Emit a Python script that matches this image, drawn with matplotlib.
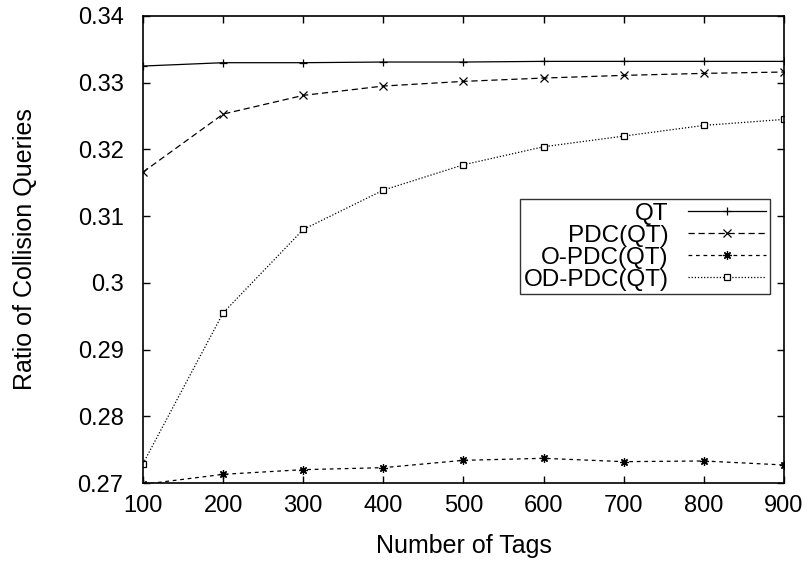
import matplotlib
matplotlib.use("Agg")
import matplotlib.pyplot as plt

plt.rcParams["font.family"] = ["Liberation Sans", "DejaVu Sans"]

tags = [100, 200, 300, 400, 500, 600, 700, 800, 900]
qt = [0.3325, 0.3330, 0.3330, 0.3331, 0.3331, 0.3332, 0.3332, 0.3332, 0.3332]
pdc = [0.3166, 0.3253, 0.3281, 0.3295, 0.3302, 0.3307, 0.3311, 0.3314, 0.3316]
opdc = [0.2698, 0.2713, 0.2720, 0.2723, 0.2734, 0.2737, 0.2732, 0.2733, 0.2727]
odpdc = [0.2729, 0.2955, 0.3080, 0.3139, 0.3177, 0.3204, 0.3220, 0.3236, 0.3245]
labels = ["QT", "PDC(QT)", "O-PDC(QT)", "OD-PDC(QT)"]
yticks = [0.27, 0.28, 0.29, 0.30, 0.31, 0.32, 0.33, 0.34]
ytick_labels = ["0.27", "0.28", "0.29", "0.3", "0.31", "0.32", "0.33", "0.34"]

fig = plt.figure(figsize=(8.12, 5.63), dpi=100)
ax = fig.add_axes([143 / 812, 1 - 483 / 563, (784 - 143) / 812, (483 - 16) / 563])

ax.plot(tags, qt, color="black", lw=0.9, ls="-", marker="+", ms=6, mew=0.9, label=labels[0])
ax.plot(tags, pdc, color="black", lw=0.9, ls=(0, (5, 3)), marker="x", ms=5.5, mew=0.9, label=labels[1])
ax.plot(tags, opdc, color="black", lw=0.9, ls=(0, (3, 3)), marker=(8, 2, 0), ms=6, mew=0.9,
        label=labels[2])
ax.plot(tags, odpdc, color="black", lw=0.9, ls=(0, (1, 1.5)), marker="s", ms=5, mfc="white", mew=0.9,
        label=labels[3])

ax.set_xlim(100, 900)
ax.set_ylim(0.27, 0.34)
ax.set_xticks(tags)
ax.set_yticks(yticks)
ax.set_yticklabels(ytick_labels)
ax.tick_params(direction="in", length=5, width=1, top=True, right=True, labelsize=17)
ax.tick_params(axis="x", pad=9)
ax.tick_params(axis="y", pad=14)
for s in ax.spines.values():
    s.set_linewidth(1.2)

ax.set_xlabel("Number of Tags", fontsize=18, va="center")
ax.xaxis.set_label_coords(0.5, (483 - 546) / 467)
ax.set_ylabel("Ratio of Collision Queries", fontsize=18, va="center")
ax.yaxis.set_label_coords((25 - 143) / 641, 0.5)

leg = ax.legend(loc="upper left", bbox_to_anchor=((520 - 143) / 641, 1 - (199 - 16) / 467),
                markerfirst=False, fontsize=17.5, frameon=True, fancybox=False, edgecolor="black",
                handlelength=3.2, labelspacing=0.0, borderpad=0.15, handletextpad=0.8,
                borderaxespad=0)
leg.get_frame().set_linewidth(1)
for t in leg.get_texts():
    t.set_ha("right")
leg._legend_box.align = "right"

fig.savefig("out.png", dpi=100)
